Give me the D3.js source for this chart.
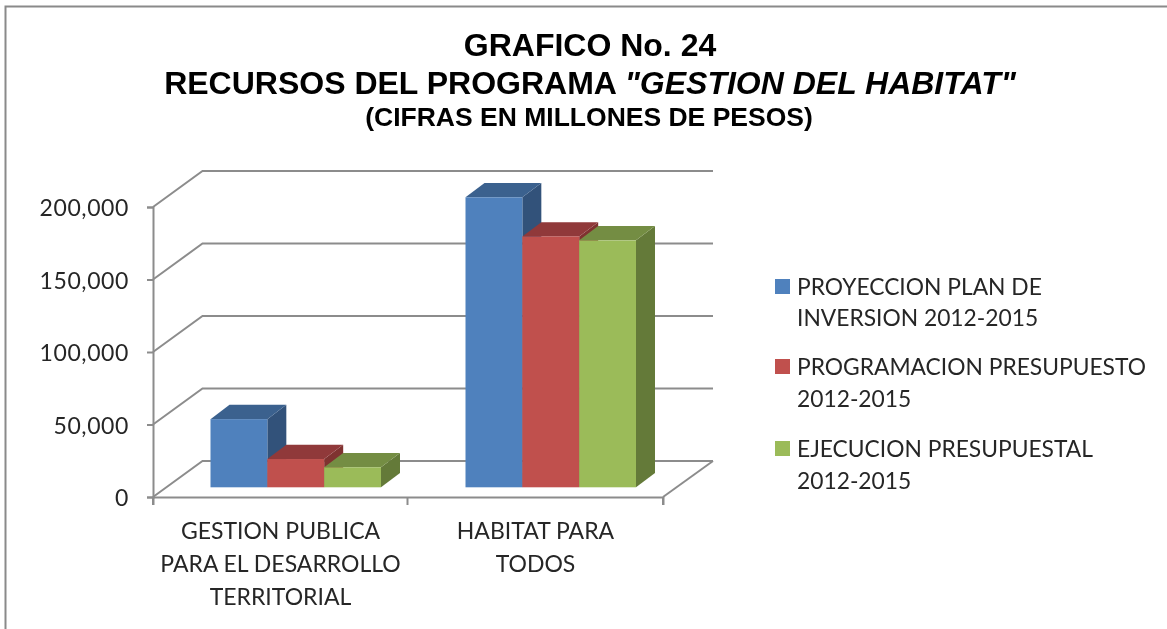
<!DOCTYPE html>
<html><head><meta charset="utf-8">
<script src="https://cdn.jsdelivr.net/npm/d3@7/dist/d3.min.js"></script>
<style>html,body{margin:0;padding:0;background:#fff}svg{display:block;filter:blur(0.45px)}</style>
</head><body><svg id="c" width="1167" height="629"></svg>
<script>
const categories = [["GESTION PUBLICA","PARA EL DESARROLLO","TERRITORIAL"],["HABITAT PARA","TODOS"]];
const seriesNames = [["PROYECCION PLAN DE","INVERSION 2012-2015"],["PROGRAMACION PRESUPUESTO","2012-2015"],["EJECUCION PRESUPUESTAL","2012-2015"]];
const proyeccion = [47000, 200000];
const programacion = [19500, 173000];
const ejecucion = [13800, 170300];
const seriesValues = [proyeccion, programacion, ejecucion];
const colorsFront = ["#4f81bd","#c0504d","#9bbb59"];
const colorsTop = ["#3b618e","#90393a","#748d43"];
const colorsSide = ["#32527a","#7f3230","#647a39"];
const yTicks = [0,50000,100000,150000,200000];

const svg = d3.select("#c");
const grey = "#8c8c8c", textCol = "#262626";
const depthX = 49.5, depthY = 36;
const y = d3.scaleLinear().domain([0,200000]).range([497,207]);
const x0 = d3.scaleBand().domain([0,1]).range([153,663]);
const x1 = d3.scaleBand().domain([0,1,2]).range([44.5,215]);
const barDX = 13, barDY = 9.7, bDepthX = 19, bDepthY = 14.3;

// border
svg.append("path").attr("d","M5.5,629V6.5H1167").attr("fill","none").attr("stroke","#8a8a8a").attr("stroke-width",2);

// walls
const grid = svg.append("g").attr("fill","none").attr("stroke",grey).attr("stroke-width",2);
yTicks.forEach(t=>{
  grid.append("path").attr("d",d3.line()([[x0.range()[0],y(t)],[x0.range()[0]+depthX,y(t)-depthY],[x0.range()[1]+depthX+0.5,y(t)-depthY]]));
});
grid.append("path").attr("d",d3.line()([[x0.range()[1],y(0)],[x0.range()[1]+depthX+0.5,y(0)-depthY]]));

// axes
const axL = d3.axisLeft(y).tickValues(yTicks).tickFormat(d3.format(",")).tickSize(6).tickPadding(18);
const gL = svg.append("g").attr("transform","translate(153,0)").call(axL);
gL.selectAll("path,line").attr("stroke",grey).attr("stroke-width",2);
gL.selectAll("text").attr("font-family","Lato").attr("font-size",23).attr("letter-spacing",0.6).attr("fill",textCol).attr("transform","translate(0,1.5)");
const axB = d3.axisBottom(x0).tickSize(8).tickFormat("");
const gB = svg.append("g").attr("transform","translate(0,497)").call(axB);
gB.selectAll("line").remove();
gB.select("path").attr("stroke",grey).attr("stroke-width",2);
[153,407.5,663].forEach(px=>svg.append("line").attr("x1",px).attr("x2",px).attr("y1",497).attr("y2",505).attr("stroke",grey).attr("stroke-width",2));

// bars
seriesValues.forEach((vals,s)=>{
  const g = svg.append("g");
  vals.forEach((v,c)=>{
    const l = x0(c)+x1(s)+barDX, r = l+x1.bandwidth();
    const t = y(v)-barDY, b = y(0)-barDY;
    g.append("polygon").attr("fill",colorsSide[s]).attr("points",[[r,t],[r+bDepthX,t-bDepthY],[r+bDepthX,b-bDepthY],[r,b]].join(" "));
    g.append("polygon").attr("fill",colorsTop[s]).attr("points",[[l,t],[l+bDepthX,t-bDepthY],[r+bDepthX,t-bDepthY],[r,t]].join(" "));
    g.append("rect").attr("fill",colorsFront[s]).attr("x",l).attr("y",t).attr("width",r-l).attr("height",b-t);
  });
});

// category labels
categories.forEach((lines,c)=>{
  lines.forEach((ln,i)=>svg.append("text").attr("x",c?535.5:280.5).attr("y",539+i*33).attr("text-anchor","middle")
    .attr("font-family","Lato").attr("font-size",23).attr("fill",textCol).text(ln));
});

// legend
const legendRows = [[295,326],[375,407],[457,489]];
seriesNames.forEach((lines,s)=>{
  svg.append("rect").attr("x",775).attr("y",legendRows[s][0]-16).attr("width",15).attr("height",15).attr("fill",colorsFront[s]);
  lines.forEach((ln,i)=>svg.append("text").attr("x",797).attr("y",legendRows[s][i]).attr("font-family","Lato").attr("font-size",22.8).attr("fill",textCol).text(ln));
});

// title
const title = svg.append("g").attr("font-family","'Liberation Sans'").attr("font-weight","bold").attr("text-anchor","middle").attr("fill","#000");
title.append("text").attr("x",590).attr("y",56).attr("font-size",32).text("GRAFICO No. 24");
const t2 = title.append("text").attr("x",590).attr("y",94).attr("font-size",32);
t2.append("tspan").text("RECURSOS DEL PROGRAMA ");
t2.append("tspan").attr("font-style","italic").text("\"GESTION DEL HABITAT\"");
title.append("text").attr("x",589).attr("y",126).attr("font-size",26.5).text("(CIFRAS EN MILLONES DE PESOS)");
</script></body></html>
